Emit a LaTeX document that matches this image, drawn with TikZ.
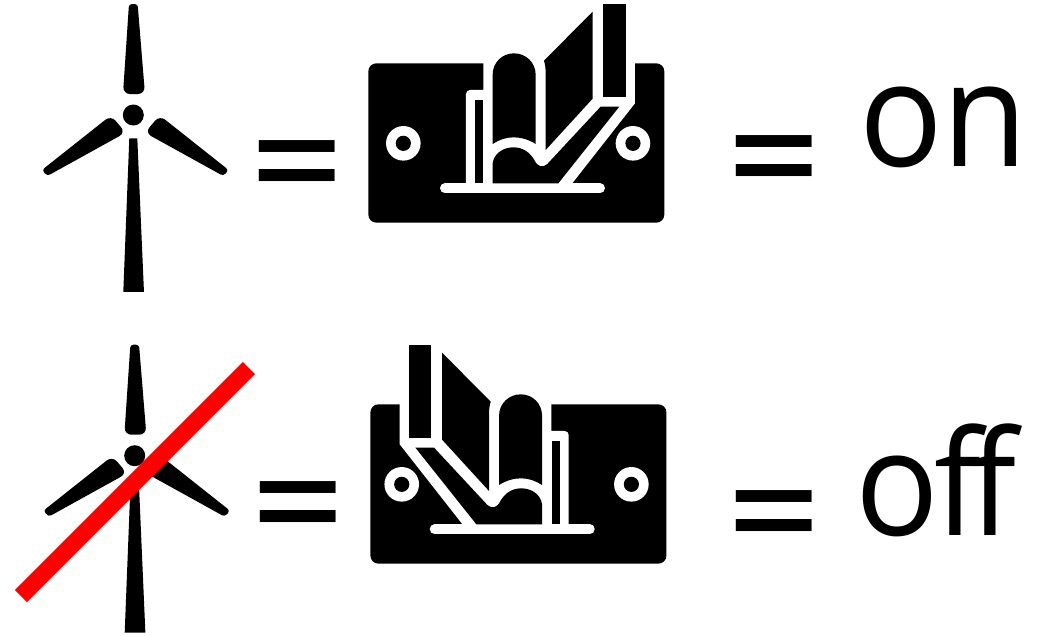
\documentclass[tikz,border=0pt]{standalone}
\usepackage{fontspec}
\newfontfamily\labelfont{Open Sans}
\newfontfamily\eqfont{DejaVu Sans}
\newcommand{\turbineicon}{%
  \fill[rounded corners=3pt] (-13,-333) -- (13,-333) [rounded corners=7pt] -- (35,-63) -- (-31,-63) [rounded corners=3pt] -- cycle;
  \fill (-12,70) -- (12,70) -- (32,531) -- (-30,531) -- cycle;
  \fill[rounded corners=3pt] (-274,165) [rounded corners=7pt] -- (-67,1) -- (-23,53) [rounded corners=3pt] -- (-258,183) -- cycle;
  \fill[rounded corners=3pt] (286,165) [rounded corners=7pt] -- (79,1) -- (35,53) [rounded corners=3pt] -- (270,183) -- cycle;
  \fill (0,0) circle[radius=10.5pt];
}
\newcommand{\switchicon}{%
  \fill[rounded corners=8pt] (55,190) rectangle (943,668);
  \fill[white] (400,150) -- (400,270) [rounded corners=4pt] -- (348,270) [sharp corners] -- (348,565) -- (655,565) -- (855,310) -- (855,150) -- cycle;
  \draw[white,line width=10pt,line cap=round] (285,565) -- (750,565);
  \fill[white] (160,430) circle[radius=17.3pt];
  \fill (160,430) circle[radius=7.6pt];
  \fill[white] (849,430) circle[radius=17.3pt];
  \fill (849,430) circle[radius=7.6pt];
  \fill (375,300) rectangle (398,550);
  \fill (428,432) -- (428,224) .. controls (428,188) and (456,160) .. (492,160) .. controls (528,160) and (557,188) .. (557,224) -- (557,432) .. controls (535,418) and (512,412) .. (490,412) .. controls (468,412) and (446,420) .. (428,432) -- cycle;
  \fill (428,550) -- (428,490) .. controls (432,460) and (460,442) .. (490,442) .. controls (520,442) and (540,458) .. (553,480) .. controls (562,500) and (578,505) .. (592,492) -- (752,320) -- (808,320) -- (625,550) -- cycle;
  \fill (582,182) .. controls (586,195) and (587,205) .. (587,220) -- (587,450) -- (728,296) -- (728,35) -- cycle;
  \fill (760,12) rectangle (827,290);
}
\tikzset{
  biglabel/.style={anchor=base west,inner sep=0pt,transform shape,font=\labelfont\fontsize{146}{150}\selectfont},
  equalsign/.style={anchor=base,inner sep=0pt,transform shape,yscale=1.2,font=\eqfont\fontsize{121}{125}\selectfont},
  crossout/.style={draw=red,line width=17pt}
}
\begin{document}
\begin{tikzpicture}[x=1pt,y=-1pt]
\useasboundingbox (0,0) rectangle (1051,635);
\begin{scope}[shift={(133.3,115)},x=0.3333pt,y=-0.3333pt]\turbineicon\end{scope}
\begin{scope}[shift={(134.7,455.7)},x=0.3333pt,y=-0.3333pt]\turbineicon\end{scope}
\begin{scope}[shift={(350,0)},x=0.3333pt,y=-0.3333pt]\switchicon\end{scope}
\begin{scope}[shift={(684.7,341)},x=-0.3333pt,y=-0.3333pt]\switchicon\end{scope}
\coordinate (crossA) at (249,368);
\coordinate (crossB) at (21,596);
\draw[crossout] (crossA) -- (crossB);
\node[equalsign] (eqA) at (297,206) {=};
\node[equalsign] (eqB) at (774,201) {=};
\node[equalsign] (eqC) at (298.5,547) {=};
\node[equalsign] (eqD) at (774,556) {=};
\node[biglabel,xscale=0.95] (onText) at (859,166.7) {on};
\node[biglabel,xscale=0.95] (offText) at (855,535) {o\kern-5pt f\kern-12pt f};
\end{tikzpicture}
\end{document}
